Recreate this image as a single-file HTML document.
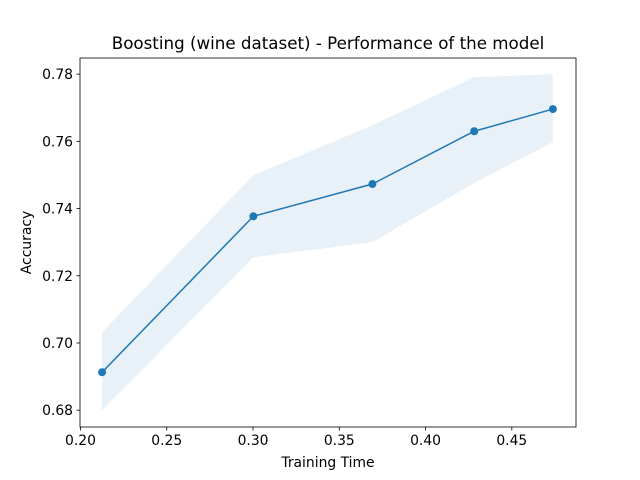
<!DOCTYPE html>
<html><head><meta charset="utf-8"><style>
body{margin:0;background:#fff;}
svg{display:block;font-family:"DejaVu Sans","Liberation Sans",sans-serif;}
</style></head><body>
<svg id="chart" width="640" height="480"></svg>
<script>
const trainTimes=[0.2125,0.3002,0.3692,0.4282,0.4738];
const accMean=[0.6913,0.7377,0.7473,0.7630,0.7696];
const accUpper=[0.7032,0.7499,0.7648,0.7791,0.7800];
const accLower=[0.6800,0.7255,0.7300,0.7476,0.7598];
const xTicks=[0.20,0.25,0.30,0.35,0.40,0.45];
const yTicks=[0.68,0.70,0.72,0.74,0.76,0.78];
const L=80,R=576,T=58,B=427;
const xMin=0.1997,xMax=0.4872,yMin=0.6750,yMax=0.7848;
const sx=v=>L+(v-xMin)/(xMax-xMin)*(R-L);
const sy=v=>B-(v-yMin)/(yMax-yMin)*(B-T);
const svg=document.getElementById('chart');
const NS='http://www.w3.org/2000/svg';
function mk(tag,attrs,parent){const e=document.createElementNS(NS,tag);for(const k in attrs)e.setAttribute(k,attrs[k]);(parent||svg).appendChild(e);return e;}
let pts=trainTimes.map((t,i)=>sx(t)+','+sy(accUpper[i]));
for(let i=trainTimes.length-1;i>=0;i--)pts.push(sx(trainTimes[i])+','+sy(accLower[i]));
const band=mk('polygon',{points:pts.join(' '),fill:'#1f77b4','fill-opacity':0.1});


const line=mk('polyline',{points:trainTimes.map((t,i)=>sx(t)+','+sy(accMean[i])).join(' '),fill:'none',stroke:'#1f77b4','stroke-width':1.5});


trainTimes.forEach((t,i)=>{const c=mk('circle',{cx:sx(t),cy:sy(accMean[i]),r:4,fill:'#1f77b4'});

});
const frame=mk('rect',{x:L,y:T,width:R-L,height:B-T,fill:'none',stroke:'#000','stroke-width':0.8});


xTicks.forEach(v=>{const x=sx(v);mk('line',{x1:x,x2:x,y1:B,y2:B+3.5,stroke:'#000','stroke-width':0.8});
const t=mk('text',{x:x,y:B+18,'font-size':13.9,'text-anchor':'middle'});t.textContent=v.toFixed(2);

});
yTicks.forEach(v=>{const y=sy(v);mk('line',{x1:L-3.5,x2:L,y1:y,y2:y,stroke:'#000','stroke-width':0.8});
const t=mk('text',{x:L-7,y:y+5,'font-size':13.9,'text-anchor':'end'});t.textContent=v.toFixed(2);

});
const xt=mk('text',{x:(L+R)/2,y:467,'font-size':13.9,'text-anchor':'middle'});xt.textContent='Training Time';


const yt=mk('text',{x:31,y:(T+B)/2,'font-size':13.9,'text-anchor':'middle',transform:'rotate(-90 31 '+((T+B)/2)+')'});yt.textContent='Accuracy';


const ti=mk('text',{x:(L+R)/2,y:49,'font-size':16.7,'text-anchor':'middle'});ti.textContent='Boosting (wine dataset) - Performance of the model';


</script>
</body></html>
